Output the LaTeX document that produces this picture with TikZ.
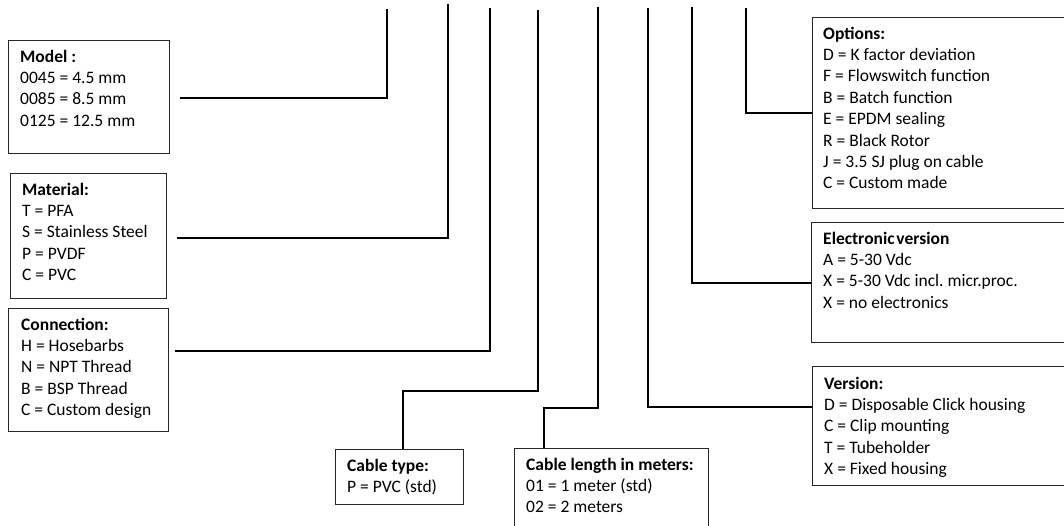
\documentclass[tikz,border=0pt]{standalone}
\usepackage{fontspec}
\setmainfont{Carlito}
\frenchspacing
\begin{document}
\begin{tikzpicture}[x=1pt,y=-1pt,
  box/.style={draw=black!85, line width=1.1pt, inner sep=0pt, anchor=north west},
  txt/.style={anchor=north west, inner sep=0pt, align=left, font=\fontsize{17.5}{21.4}\selectfont},
  link/.style={draw=black, line width=2pt}]
\clip (0,0) rectangle (1064,525);
\fill[white] (0,0) rectangle (1064,525);
% boxes
\node[box, minimum width=161pt, minimum height=113pt] (model) at (8,40) {};
\node[box, minimum width=156pt, minimum height=125pt] (material) at (10,173) {};
\node[box, minimum width=160pt, minimum height=123pt] (connection) at (8,308) {};
\node[box, minimum width=128pt, minimum height=55pt] (cabletype) at (335,449) {};
\node[box, minimum width=194pt, minimum height=100pt] (cablelen) at (514,448) {};
\node[box, minimum width=300pt, minimum height=191pt] (options) at (812,17) {};
\node[box, minimum width=300pt, minimum height=120pt] (elec) at (811,222) {};
\node[box, minimum width=300pt, minimum height=119pt] (version) at (812,366) {};
% texts
\node[txt] (model-t) at (20,47) {\strut\textbf{Model :}\\\strut 0045 = 4.5 mm\\\strut 0085 = 8.5 mm\\\strut 0125 = 12.5 mm};
\node[txt] (material-t) at (22,180) {\strut\textbf{Material:}\\\strut T = PFA\\\strut S = Stainless Steel\\\strut P = PVDF\\\strut C = PVC};
\node[txt] (connection-t) at (21,315) {\strut\textbf{Connection:}\\\strut H = Hosebarbs\\\strut N = NPT Thread\\\strut B = BSP Thread\\\strut C = Custom design};
\node[txt] (cabletype-t) at (347,456) {\strut\textbf{Cable type:}\\\strut P = PVC (std)};
\node[txt] (cablelen-t) at (526,455) {\strut\textbf{Cable length in meters:}\\\strut 01 = 1 meter (std)\\\strut 02 = 2 meters};
\node[txt] (options-t) at (823,24) {\strut\textbf{Options:}\\\strut D = K factor deviation\\\strut F = Flowswitch function\\\strut B = Batch function\\\strut E = EPDM sealing\\\strut R = Black Rotor\\\strut J = 3.5 SJ plug on cable\\\strut C = Custom made};
\node[txt] (elec-t) at (823,229) {\strut\textbf{Electronic\hspace{0.1em}version}\\\strut A = 5-30 Vdc\\\strut X = 5-30 Vdc incl. micr.proc.\\\strut X = no electronics};
\node[txt] (version-t) at (824,374) {\strut\textbf{Version:}\\\strut D = Disposable Click housing\\\strut C = Clip mounting\\\strut T = Tubeholder\\\strut X = Fixed housing};
% connector ends
\coordinate (t1) at (387,9);   \coordinate (e1) at (180,98);
\coordinate (t2) at (448,4);   \coordinate (e2) at (177,238);
\coordinate (t3) at (490,8);   \coordinate (e3) at (175,351);
\coordinate (t4) at (538,10);  \coordinate (k4) at (403,391);
\coordinate (t5) at (598,7);   \coordinate (k5) at (544,408);
\coordinate (t6) at (648,8);   \coordinate (k6) at (812,407);
\coordinate (t7) at (692,7);
\coordinate (t8) at (746,8);
% connectors
\draw[link] (t1) |- (e1);
\draw[link] (t2) |- (e2);
\draw[link] (t3) |- (e3);
\draw[link] (t4) |- (k4) -- (k4 |- cabletype.north);
\draw[link] (t5) |- (k5) -- (k5 |- cablelen.north);
\draw[link] (t6) |- (k6 -| version.west);
\draw[link] (t7) |- (elec.west);
\draw[link] (t8) |- (options.west);
\end{tikzpicture}
\end{document}
